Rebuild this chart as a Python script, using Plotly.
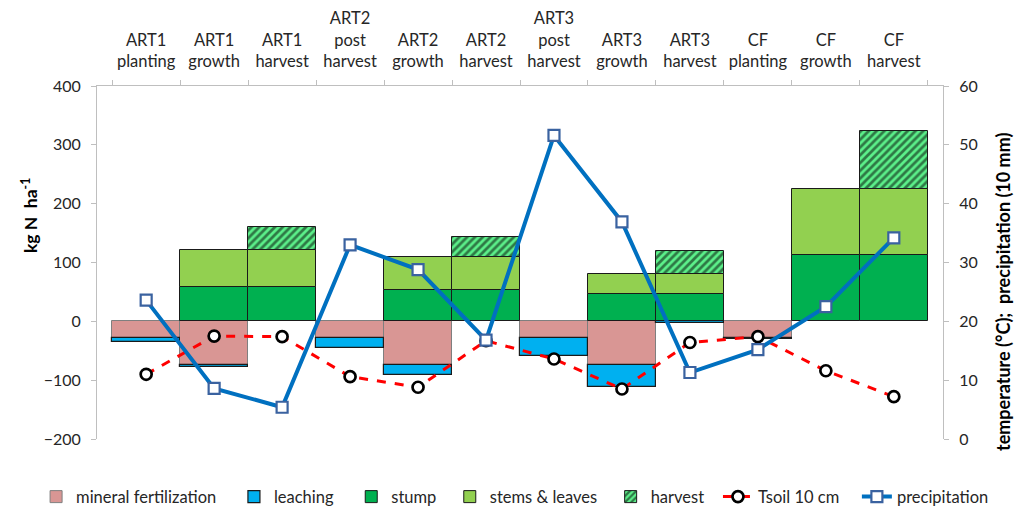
import plotly.graph_objects as go

categories = ["ART1<br>planting", "ART1<br>growth", "ART1<br>harvest", "ART2<br>post<br>harvest",
              "ART2<br>growth", "ART2<br>harvest", "ART3<br>post<br>harvest", "ART3<br>growth",
              "ART3<br>harvest", "CF<br>planting", "CF<br>growth", "CF<br>harvest"]

fertilization = [-28, -75, None, -29, -74, None, -29, -74, None, -28, None, None]
leaching = [-7, -2, None, -17, -17, None, -30, -37, -2, -2, None, None]
stump = [None, 59, 59, None, 54, 54, None, 47, 47, None, 113, 113]
stems = [None, 62, 62, None, 56, 56, None, 34, 34, None, 112, 112]
harvest = [None, None, 40, None, None, 34, None, None, 39, None, None, 98]

tsoil = [11.0, 17.5, 17.4, 10.6, 8.8, 16.7, 13.6, 8.5, 16.4, 17.4, 11.6, 7.2]
precip = [23.6, 8.6, 5.4, 33.0, 28.8, 16.8, 51.6, 36.9, 11.3, 15.2, 22.5, 34.2]

legend_names = ["mineral fertilization", "leaching", "stump", "stems & leaves",
                "harvest", "Tsoil 10 cm", "precipitation"]
legend_pad = [3, 3, 2, 2, 0, 3, 0]
names = [n + "\u00a0" * p for n, p in zip(legend_names, legend_pad)]

FONT = "Lato"
TXT = "#262626"
NB = "\u00a0"

fig = go.Figure()
fig.add_trace(go.Bar(x=categories, y=fertilization, name=names[0], legend="legend",
                     marker=dict(color="#D99694", line=dict(color="#7F7F7F", width=1))))
fig.add_trace(go.Bar(x=categories, y=leaching, name=names[1], legend="legend",
                     marker=dict(color="#00B0F0", line=dict(color="#1A1A1A", width=1.2))))
fig.add_trace(go.Bar(x=categories, y=stump, name=names[2], legend="legend",
                     marker=dict(color="#00B050", line=dict(color="#1A1A1A", width=1))))
fig.add_trace(go.Bar(x=categories, y=stems, name=names[3], legend="legend",
                     marker=dict(color="#92D050", line=dict(color="#1A1A1A", width=1))))
fig.add_trace(go.Bar(x=categories, y=harvest, name=names[4], legend="legend",
                     marker=dict(color="#5CF08A", line=dict(color="#1A1A1A", width=1),
                                 pattern=dict(shape="/", fgcolor="black", bgcolor="#5CF08A",
                                              size=5.5, solidity=0.5))))
fig.add_trace(go.Scatter(x=categories, y=tsoil, name=names[5], yaxis="y2", legend="legend2",
                         mode="lines+markers",
                         line=dict(color="#FF0000", width=3, dash="dash"),
                         marker=dict(symbol="circle", size=11, color="white",
                                     line=dict(color="black", width=2.7))))
fig.add_trace(go.Scatter(x=categories, y=precip, name=names[6], yaxis="y2", legend="legend2",
                         mode="lines+markers",
                         line=dict(color="#0070C0", width=4),
                         marker=dict(symbol="square", size=11, color="white",
                                     line=dict(color="#3A62A0", width=2.2))))

legend_common = dict(orientation="h", yanchor="middle", y=-0.164, xanchor="left",
                     font=dict(size=16.5, color=TXT), itemwidth=30, tracegroupgap=0,
                     bgcolor="rgba(0,0,0,0)")

fig.update_layout(
    width=1017, height=499,
    margin=dict(l=89, r=82, t=78, b=68, autoexpand=False),
    plot_bgcolor="white", paper_bgcolor="white",
    barmode="relative", bargap=0,
    font=dict(family=FONT, size=16.5, color=TXT),
    showlegend=True,
    legend=dict(x=-0.072, **legend_common),
    legend2=dict(x=0.734, **legend_common),
    xaxis=dict(side="top", showline=True, linecolor="#BFBFBF", linewidth=1,
               ticks="outside", tickson="boundaries", ticklen=5, tickcolor="#BFBFBF",
               showgrid=False, tickfont=dict(size=16.5, color=TXT), automargin=False,
               ticklabelstandoff=11),
    yaxis=dict(range=[-200, 400], dtick=100, showgrid=False, zeroline=False,
               showline=True, linecolor="#BFBFBF", linewidth=1,
               ticks="outside", ticklen=5, tickcolor="#BFBFBF",
               tickfont=dict(size=16, color=TXT), automargin=False, ticklabelstandoff=7),
    yaxis2=dict(range=[0, 60], dtick=10, overlaying="y", side="right", showgrid=False,
                zeroline=False, showline=True, linecolor="#BFBFBF", linewidth=1,
                ticks="outside", ticklen=5, tickcolor="#BFBFBF",
                tickfont=dict(size=16, color=TXT), automargin=False, ticklabelstandoff=7),
    annotations=[
        dict(text="<b>kg N" + NB + NB + "ha<sup>-1</sup></b>", xref="paper", yref="paper",
             x=-0.0792, y=0.6346, xanchor="center", yanchor="middle", textangle=-90,
             showarrow=False, font=dict(size=17.5, color="black")),
        dict(text="<b>temperature (°C);" + NB * 2 + "precipitation (10 mm)</b>",
             xref="paper", yref="paper", x=1.0709, y=0.4164, xanchor="center",
             yanchor="middle", textangle=-90, showarrow=False,
             font=dict(size=18, color="black")),
    ],
)

fig.write_html("out.html")
